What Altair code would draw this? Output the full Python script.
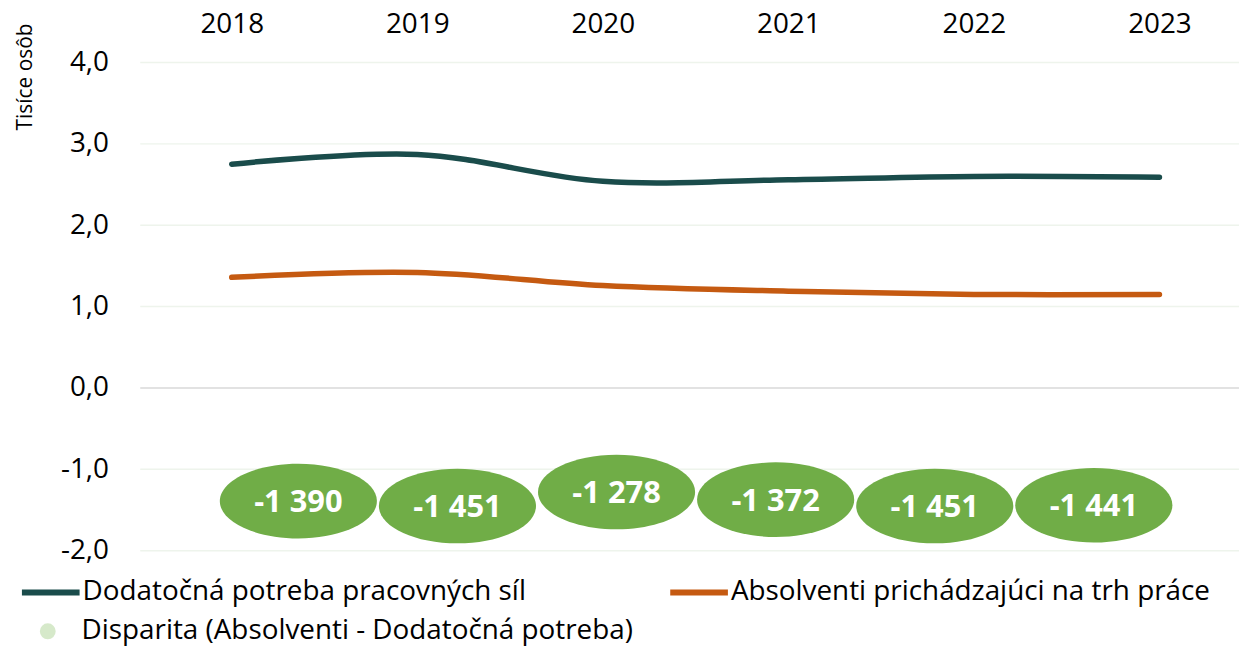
import altair as alt
import pandas as pd

years = ["2018", "2019", "2020", "2021", "2022", "2023"]
s_need = "Dodatočná potreba pracovných síl"
s_grad = "Absolventi prichádzajúci na trh práce"
s_disp = "Disparita (Absolventi - Dodatočná potreba)"
need = [2.75, 2.87, 2.54, 2.56, 2.60, 2.59]
grad = [1.36, 1.42, 1.26, 1.19, 1.15, 1.15]
disparity = [-1390, -1451, -1278, -1372, -1451, -1441]
y_ticks = [-2, -1, 0, 1, 2, 3, 4]

c_need = "#1a4c4b"
c_grad = "#c55a11"
c_bubble = "#70ad47"
c_legend_dot = "#c5e0b4"

lines_df = pd.DataFrame(
    [{"year": y, "series": s_need, "value": v} for y, v in zip(years, need)]
    + [{"year": y, "series": s_grad, "value": v} for y, v in zip(years, grad)]
)
bub_df = pd.DataFrame({
    "year": years,
    "value": [d / 1000 for d in disparity],
    "label": [f"{d:,}".replace(",", " ") for d in disparity],
})
disp_df = pd.DataFrame({"series": [s_disp]})
grid_df = pd.DataFrame({"value": y_ticks})

W, H = 1105, 491
FONT = "Open Sans"

yscale = alt.Scale(domain=[-2, 4], nice=False, zero=False)
yaxis = alt.Axis(
    values=y_ticks,
    labelExpr="(datum.value < 0 ? '-' : '') + replace(format(abs(datum.value), '.1f'), '.', ',')",
    labelFontSize=28, labelColor="#000000", labelPadding=32,
    ticks=False, domain=False, grid=False,
    title="Tisíce osôb", titleFontSize=21, titleFontWeight="normal", titleColor="#000000",
    titleAngle=-90, titleX=-109, titleY=14, titleAlign="center", titleBaseline="alphabetic",
)

grid = alt.Chart(grid_df).mark_rule(strokeWidth=1.5).encode(
    y=alt.Y("value:Q", scale=yscale, axis=yaxis),
    color=alt.condition("datum.value === 0", alt.value("#d9d9d9"), alt.value("#eef4ec")),
)

lines = alt.Chart(lines_df).mark_line(
    interpolate="catmull-rom", strokeWidth=5.5, strokeCap="round"
).encode(
    x=alt.X("year:O", scale=alt.Scale(type="point", domain=years, range=[92, 1025], padding=0),
            axis=alt.Axis(orient="top", title=None, labelAngle=0, labelFontSize=28,
                          labelColor="#000000", labelPadding=24, ticks=False,
                          domain=False, grid=False)),
    y=alt.Y("value:Q", scale=yscale),
    color=alt.Color("series:N",
                    scale=alt.Scale(domain=[s_need, s_grad], range=[c_need, c_grad]),
                    legend=alt.Legend(
                        title=None, orient="none", legendX=-122, legendY=501,
                        direction="horizontal", columns=2, columnPadding=132,
                        labelFontSize=28, labelColor="#000000", labelOffset=0, labelLimit=0,
                        symbolType="stroke", symbolStrokeWidth=6, symbolSize=3364,
                    )),
)

disp_legend_layer = alt.Chart(disp_df).mark_point(filled=True, shape="circle").transform_filter(
    "false"
).encode(
    fill=alt.Fill("series:N", scale=alt.Scale(domain=[s_disp], range=[c_legend_dot]),
                  legend=alt.Legend(
                      title=None, orient="none", legendX=-107, legendY=558,
                      labelFontSize=28, labelColor="#000000", labelOffset=20, labelLimit=0,
                      symbolType="circle", symbolSize=254, symbolStrokeWidth=0,
                  )),
)

bscale = alt.Scale(type="point", domain=years, range=[159, 959], padding=0)
ellipse = ("M -1 0 C -1 -0.262 -0.552 -0.475 0 -0.475 C 0.552 -0.475 1 -0.262 1 0 "
           "C 1 0.262 0.552 0.475 0 0.475 C -0.552 0.475 -1 0.262 -1 0 Z")
bubbles = alt.Chart(bub_df).mark_point(
    shape=ellipse, size=158 * 158, filled=True, color=c_bubble, opacity=1, strokeWidth=0
).encode(x=alt.X("year:O", scale=bscale, axis=None), y=alt.Y("value:Q", scale=yscale))
texts = alt.Chart(bub_df).mark_text(
    color="#ffffff", fontSize=31, fontWeight="bold", baseline="middle", align="center", dy=2
).encode(x=alt.X("year:O", scale=bscale, axis=None), y=alt.Y("value:Q", scale=yscale),
         text="label:N")

chart = alt.layer(grid, lines, disp_legend_layer, bubbles, texts).resolve_scale(
    x="independent"
).properties(width=W, height=H).configure(
    font=FONT, padding={"left": 6, "top": 1, "right": 0, "bottom": 0}
).configure_view(stroke=None)

chart.save("out.html", embed_options={"renderer": "svg", "actions": False})
